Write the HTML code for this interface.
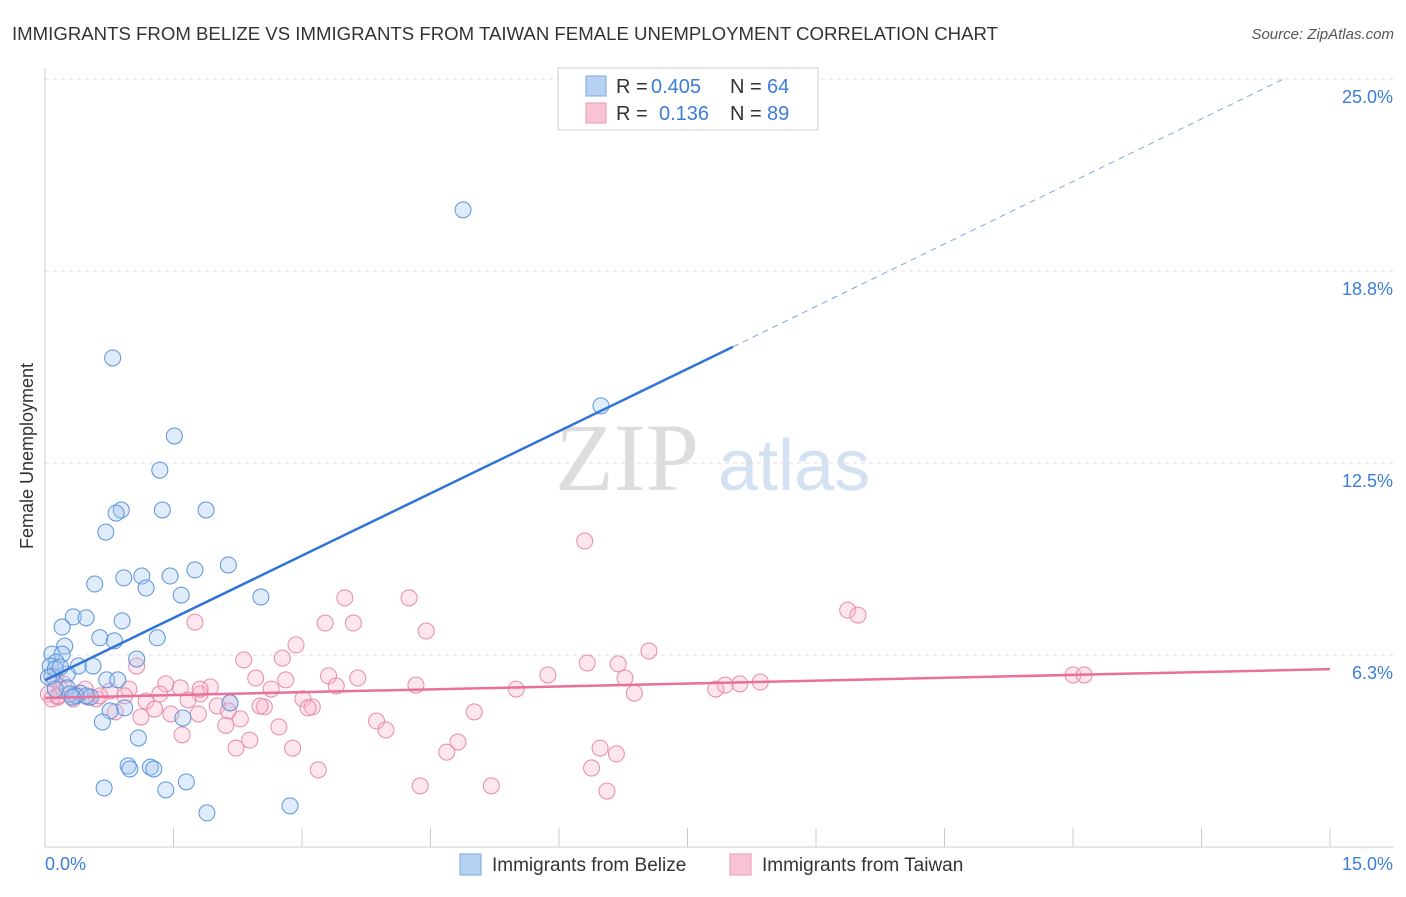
<!DOCTYPE html>
<html><head><meta charset="utf-8"><style>
body{margin:0;background:#fff;font-family:"Liberation Sans",sans-serif;}
</style></head><body>
<svg id="chart" width="1406" height="892" xmlns="http://www.w3.org/2000/svg" font-family="Liberation Sans, sans-serif">
<text x="12" y="40" font-size="18" fill="#333" textLength="986" lengthAdjust="spacingAndGlyphs">IMMIGRANTS FROM BELIZE VS IMMIGRANTS FROM TAIWAN FEMALE UNEMPLOYMENT CORRELATION CHART</text>
<text x="1394" y="39" font-size="15" fill="#555" font-style="italic" text-anchor="end">Source: ZipAtlas.com</text>
<text transform="translate(33,456) rotate(-90)" font-size="18" fill="#333" text-anchor="middle">Female Unemployment</text>
<text x="555" y="490" font-size="96" fill="#ddd" font-family="Liberation Serif, serif">ZIP</text>
<text x="718" y="490" font-size="72" fill="#d3e1f3">atlas</text>
<g id="grid"></g><g id="axes"></g><g id="pts"></g><g id="lines"></g>
<g>
<rect x="558" y="68" width="260" height="62" fill="#fff" stroke="#ccc"/>
<rect x="586" y="76" width="20" height="20" fill="#b7d1f3" stroke="#7aa7e0"/>
<rect x="586" y="103" width="20" height="20" fill="#f9c5d4" stroke="#e99ab2"/>
<text x="616" y="93" font-size="20" fill="#333">R =</text>
<text x="651" y="93" font-size="20" fill="#3b7dd8">0.405</text>
<text x="730" y="93" font-size="20" fill="#333">N =</text>
<text x="767" y="93" font-size="20" fill="#3b7dd8">64</text>
<text x="616" y="120" font-size="20" fill="#333">R =</text>
<text x="659" y="120" font-size="20" fill="#3b7dd8">0.136</text>
<text x="730" y="120" font-size="20" fill="#333">N =</text>
<text x="767" y="120" font-size="20" fill="#3b7dd8">89</text>
</g>
<g>
<rect x="460" y="854" width="21" height="21" fill="#b7d1f3" stroke="#7aa7e0"/>
<text x="492" y="871" font-size="19" fill="#333">Immigrants from Belize</text>
<rect x="730" y="854" width="21" height="21" fill="#f9c5d4" stroke="#e99ab2"/>
<text x="762" y="871" font-size="19" fill="#333">Immigrants from Taiwan</text>
</g>
</svg>
<script>
const yTicks=[6.25,12.5,18.75,25];
const yTickLabels=["6.3%","12.5%","18.8%","25.0%"];
const belizeX=[4.88,6.49,0.79,1.51,1.34,0.89,0.83,1.37,1.88,0.71,2.14,1.75,1.13,1.46,0.92,0.58,1.18,1.59,2.52,0.33,0.48,0.2,0.9,1.31,0.64,0.81,0.23,0.08,0.2,0.13,0.39,0.56,0.06,0.26,0.08,0.72,0.85,1.07,0.26,0.41,0.53,0.48,0.36,2.16,0.93,0.76,1.61,0.67,1.09,0.97,0.99,1.23,1.27,1.65,0.69,1.41,2.86,1.89,0.12,0.04,0.18,0.29,0.12,0.32];
const belizeY=[20.74,14.36,15.92,13.38,12.27,10.97,10.87,10.97,10.97,10.25,9.18,9.02,8.82,8.82,8.76,8.56,8.43,8.2,8.14,7.49,7.46,7.16,7.36,6.81,6.81,6.71,6.54,6.28,6.28,6.02,5.89,5.89,5.89,5.63,5.57,5.44,5.44,6.12,5.18,5.01,4.88,4.92,4.92,4.69,4.53,4.43,4.2,4.07,3.55,2.64,2.54,2.6,2.54,2.12,1.92,1.86,1.34,1.11,5.79,5.53,5.86,4.98,5.14,4.88];
const taiwanX=[6.3,9.37,9.49,3.5,4.25,1.75,3.27,3.6,4.45,2.93,7.05,2.32,2.77,6.33,6.69,1.07,5.87,3.31,3.65,6.77,8.35,8.11,7.94,7.83,12.0,12.13,4.33,5.5,6.88,2.81,2.46,3.4,1.93,1.41,1.58,0.98,0.76,1.81,2.64,3.01,1.34,1.18,0.93,0.6,0.5,0.33,0.18,0.12,0.04,0.15,2.16,2.01,1.67,2.56,3.12,3.07,2.51,0.82,1.12,1.47,2.28,2.14,1.79,3.87,3.98,2.73,5.01,2.11,1.6,2.39,2.23,2.89,4.82,4.69,6.48,6.67,3.19,6.38,4.38,5.21,6.56,0.22,0.35,0.08,0.15,0.47,0.64,1.28,1.81];
const taiwanY=[9.96,7.71,7.55,8.11,8.11,7.32,7.29,7.29,7.03,6.58,6.38,6.09,6.15,5.99,5.96,5.89,5.6,5.57,5.5,5.5,5.37,5.31,5.27,5.14,5.6,5.6,5.27,5.14,5.01,5.44,5.5,5.24,5.21,5.31,5.18,5.14,5.08,4.98,5.14,4.82,4.98,4.75,4.92,4.82,4.88,4.82,5.14,5.47,4.98,4.88,4.69,4.59,4.79,4.56,4.56,4.53,4.59,4.4,4.23,4.33,4.17,4.43,4.33,4.1,3.81,3.91,4.4,3.96,3.65,3.48,3.22,3.22,3.42,3.09,3.22,3.03,2.51,2.57,1.99,1.99,1.82,5.3,4.95,4.82,4.92,5.14,4.92,4.49,5.14];
const belizeLine=[[0,5.43],[8.03,16.28],[14.48,25.03]];
const taiwanLine=[[0,4.85],[15,5.79]];
const ns="http://www.w3.org/2000/svg";
const X0=45,X1=1330,Y0=847,Y25=79;
const sx=v=>X0+(X1-X0)*v/15, sy=v=>Y0-(Y0-Y25)*v/25;
function mk(t,a,p){const e=document.createElementNS(ns,t);for(const k in a)e.setAttribute(k,a[k]);document.getElementById(p).appendChild(e);return e;}
yTicks.forEach((t,i)=>{
 const g=mk('line',{x1:X0,x2:1394,y1:sy(t),y2:sy(t),stroke:'#ddd','stroke-dasharray':'4,4'},'grid');
 
 
 const l=mk('text',{x:1393,y:sy(t)+24,'font-size':18,fill:'#3b7dd8','text-anchor':'end'},'axes');
 l.textContent=yTickLabels[i];
 
 
});
let ax=mk('line',{x1:X0,x2:X0,y1:68,y2:Y0,stroke:'#ccc'},'axes');


ax=mk('line',{x1:X0,x2:1394,y1:Y0,y2:Y0,stroke:'#ccc'},'axes');


for(let i=0;i<=10;i++){const t=mk('line',{x1:sx(i*1.5),x2:sx(i*1.5),y1:828,y2:Y0,stroke:'#ccc'},'axes');
 
 }
let xl=mk('text',{x:45,y:870,'font-size':18,fill:'#3b7dd8'},'axes');xl.textContent='0.0%';


xl=mk('text',{x:1393,y:870,'font-size':18,fill:'#3b7dd8','text-anchor':'end'},'axes');xl.textContent='15.0%';


function pts(xs,ys,fill,stroke,name){xs.forEach((x,i)=>{const c=mk('circle',{cx:sx(x),cy:sy(ys[i]),r:8,fill:fill,'fill-opacity':0.35,stroke:stroke,'stroke-width':1},'pts');
 
 });}
pts(taiwanX,taiwanY,'#f9b8cc','#e88aa8','taiwan-point');
pts(belizeX,belizeY,'#a9c8f0','#5a93db','belize-point');
let l1=mk('line',{x1:sx(belizeLine[0][0]),y1:sy(belizeLine[0][1]),x2:sx(belizeLine[1][0]),y2:sy(belizeLine[1][1]),stroke:'#2f74d6','stroke-width':2.5},'lines');


l1=mk('line',{x1:sx(belizeLine[1][0]),y1:sy(belizeLine[1][1]),x2:sx(belizeLine[2][0]),y2:sy(belizeLine[2][1]),stroke:'#7aa7e0','stroke-width':1,'stroke-dasharray':'6,5'},'lines');


l1=mk('line',{x1:sx(taiwanLine[0][0]),y1:sy(taiwanLine[0][1]),x2:sx(taiwanLine[1][0]),y2:sy(taiwanLine[1][1]),stroke:'#e8709a','stroke-width':2.5},'lines');


</script>
</body></html>
